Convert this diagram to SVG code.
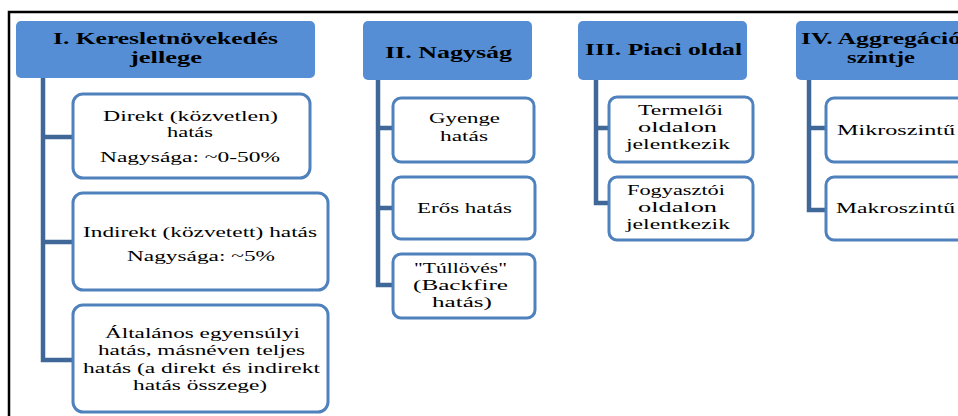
<svg xmlns="http://www.w3.org/2000/svg" width="958" height="416" viewBox="0 0 958 416">
<style>
.hd{fill:#558ED5;}
.bx{fill:#FFFFFF;stroke:#4F81BD;stroke-width:3;}
.cn{fill:none;stroke:#3F6797;stroke-width:4.5;}
.ht{font-family:"Liberation Serif","Times New Roman",serif;font-weight:bold;font-size:16px;fill:#000;}
.t{font-family:"Liberation Serif","Times New Roman",serif;font-size:14px;fill:#000;}
</style>
<rect width="958" height="416" fill="#FFFFFF"/>
<path d="M9,416 V12 H958" fill="none" stroke="#000" stroke-width="2.5"/>
<g id="connectors">
<path class="cn" d="M43,78 V360 H73 M43,137 H73 M43,242 H73"/>
<path class="cn" d="M378,80 V285 H393 M378,128 H393 M378,208 H393"/>
<path class="cn" d="M596,80 V203 H609 M596,128 H609"/>
<path class="cn" d="M809,80 V210 H826 M809,128 H826"/>
</g>
<g id="h1"><rect class="hd" x="16" y="21" width="299" height="57" rx="5"/>
<text class="ht" x="53" y="44" textLength="225" lengthAdjust="spacingAndGlyphs">I. Keresletnövekedés</text>
<text class="ht" x="130" y="63" textLength="72" lengthAdjust="spacingAndGlyphs">jellege</text></g>
<g id="n1a"><rect class="bx" x="73" y="94" width="237" height="84" rx="10"/>
<text class="t" x="103" y="121" textLength="175" lengthAdjust="spacingAndGlyphs">Direkt (közvetlen)</text>
<text class="t" x="167" y="137" textLength="46" lengthAdjust="spacingAndGlyphs">hatás</text>
<text class="t" x="100" y="162" textLength="180" lengthAdjust="spacingAndGlyphs">Nagysága: ~0-50%</text></g>
<g id="n1b"><rect class="bx" x="73" y="193" width="255" height="97" rx="10"/>
<text class="t" x="83" y="237" textLength="234" lengthAdjust="spacingAndGlyphs">Indirekt (közvetett) hatás</text>
<text class="t" x="127" y="261" textLength="148" lengthAdjust="spacingAndGlyphs">Nagysága: ~5%</text></g>
<g id="n1c"><rect class="bx" x="73" y="305" width="255" height="107" rx="10"/>
<text class="t" x="105" y="338" textLength="195" lengthAdjust="spacingAndGlyphs">Általános egyensúlyi</text>
<text class="t" x="98" y="355" textLength="207" lengthAdjust="spacingAndGlyphs">hatás, másnéven teljes</text>
<text class="t" x="83" y="373" textLength="237" lengthAdjust="spacingAndGlyphs">hatás (a direkt és indirekt</text>
<text class="t" x="133" y="390" textLength="134" lengthAdjust="spacingAndGlyphs">hatás összege)</text></g>
<g id="h2"><rect class="hd" x="363" y="21" width="169" height="59" rx="5"/>
<text class="ht" x="385" y="58" textLength="127" lengthAdjust="spacingAndGlyphs">II. Nagyság</text></g>
<g id="n2a"><rect class="bx" x="393" y="98" width="141" height="64" rx="8"/>
<text class="t" x="429" y="123" textLength="71" lengthAdjust="spacingAndGlyphs">Gyenge</text>
<text class="t" x="440" y="141" textLength="48" lengthAdjust="spacingAndGlyphs">hatás</text></g>
<g id="n2b"><rect class="bx" x="393" y="177" width="142" height="62" rx="8"/>
<text class="t" x="417" y="213" textLength="95" lengthAdjust="spacingAndGlyphs">Erős hatás</text></g>
<g id="n2c"><rect class="bx" x="393" y="254" width="142" height="64" rx="8"/>
<text class="t" x="414" y="273" textLength="93" lengthAdjust="spacingAndGlyphs">"Túllövés"</text>
<text class="t" x="413" y="290" textLength="95" lengthAdjust="spacingAndGlyphs">(Backfire</text>
<text class="t" x="432" y="307" textLength="60" lengthAdjust="spacingAndGlyphs">hatás)</text></g>
<g id="h3"><rect class="hd" x="578" y="21" width="169" height="59" rx="5"/>
<text class="ht" x="585" y="55" textLength="157" lengthAdjust="spacingAndGlyphs">III. Piaci oldal</text></g>
<g id="n3a"><rect class="bx" x="609" y="97" width="144" height="65" rx="8"/>
<text class="t" x="638" y="115" textLength="85" lengthAdjust="spacingAndGlyphs">Termelői</text>
<text class="t" x="638" y="132" textLength="79" lengthAdjust="spacingAndGlyphs">oldalon</text>
<text class="t" x="626" y="149" textLength="104" lengthAdjust="spacingAndGlyphs">jelentkezik</text></g>
<g id="n3b"><rect class="bx" x="609" y="177" width="144" height="63" rx="8"/>
<text class="t" x="627" y="195" textLength="98" lengthAdjust="spacingAndGlyphs">Fogyasztói</text>
<text class="t" x="638" y="212" textLength="79" lengthAdjust="spacingAndGlyphs">oldalon</text>
<text class="t" x="626" y="229" textLength="104" lengthAdjust="spacingAndGlyphs">jelentkezik</text></g>
<g id="h4"><rect class="hd" x="796" y="21" width="180" height="59" rx="5"/>
<text class="ht" x="801" y="44" textLength="170" lengthAdjust="spacingAndGlyphs">IV. Aggregációs</text>
<text class="ht" x="847" y="63" textLength="68" lengthAdjust="spacingAndGlyphs">szintje</text></g>
<g id="n4a"><rect class="bx" x="826" y="98" width="150" height="64" rx="8"/>
<text class="t" x="837" y="135" textLength="118" lengthAdjust="spacingAndGlyphs">Mikroszintű</text></g>
<g id="n4b"><rect class="bx" x="826" y="177" width="150" height="63" rx="8"/>
<text class="t" x="836" y="213" textLength="119" lengthAdjust="spacingAndGlyphs">Makroszintű</text></g>
</svg>
